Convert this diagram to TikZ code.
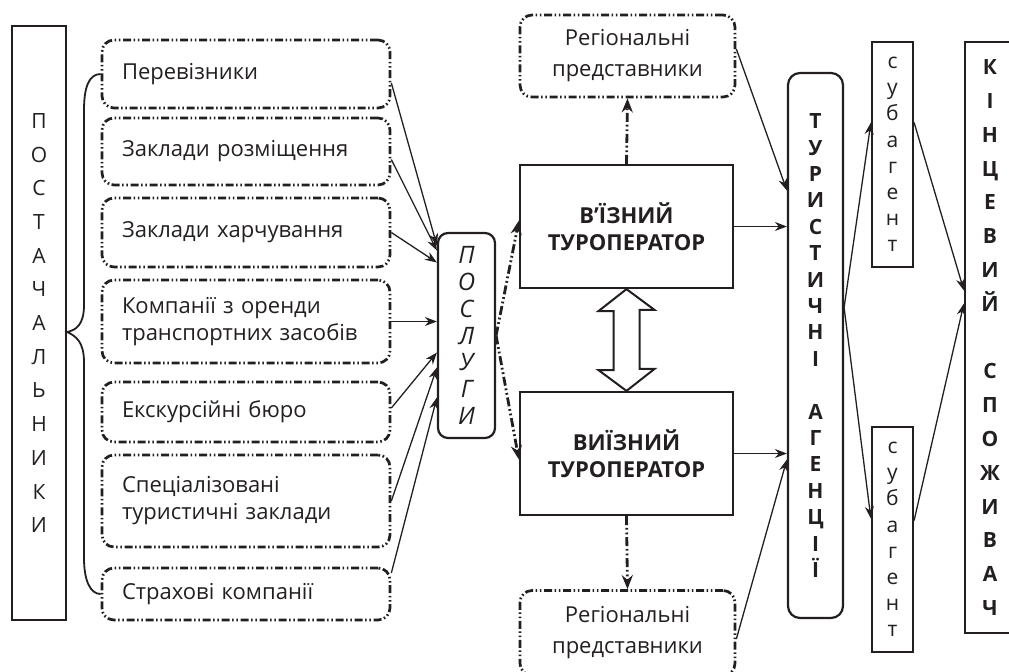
\documentclass[tikz,border=0pt]{standalone}
\usepackage{fontspec}
\setmainfont{Open Sans}
\usetikzlibrary{arrows.meta}
\definecolor{ink}{HTML}{231F20}

\tikzset{
  dashdotdot/.style={dash pattern=on 4pt off 1.3pt on 0.8pt off 1.3pt on 0.8pt off 1.3pt},
  srcbox/.style={draw=ink, line width=1.35pt, dashdotdot, rounded corners=6pt,
    text width=124pt, inner xsep=10pt, align=left, text=ink,
    font=\fontsize{11}{13.5}\selectfont},
  regbox/.style={srcbox, text width=87.5pt, align=center, minimum height=41pt,
    font=\fontsize{11}{15.5}\selectfont},
  opbox/.style={draw=ink, line width=1.1pt, minimum width=106.5pt, minimum height=61.5pt,
    align=center, text=ink, font=\fontsize{11}{13.5}\selectfont\bfseries},
  vbox/.style={draw=ink, line width=1.1pt, align=center, text=ink, inner sep=0pt},
  conn/.style={draw=ink, line width=0.65pt, -{Stealth[length=6pt,width=4.5pt]}},
  flowarr/.style={draw=ink, line width=1.4pt, dash pattern=on 4.5pt off 1.4pt on 0.9pt off 1.4pt on 0.9pt off 1.4pt,
    -{Stealth[length=7pt,width=5.5pt]}},
  dblarrow/.style={draw=ink, line width=1pt, fill=white, line join=miter}
}

\begin{document}
\begin{tikzpicture}[x=0.5pt,y=-0.5pt]
\useasboundingbox (0,0) rectangle (1009,671);

% постачальники
\node[vbox, minimum width=27pt, minimum height=297pt, font=\fontsize{10.5}{16.85}\selectfont]
  (pst) at (39,323) {П\\О\\С\\Т\\А\\Ч\\А\\Л\\Ь\\Н\\И\\К\\И};

\node[srcbox, minimum height=34pt]   (per)     at (246,74)    {Перевізники};
\node[srcbox, minimum height=33.5pt] (rozm)    at (246,151.5) {Заклади розміщення};
\node[srcbox, minimum height=34.5pt] (harch)   at (246,232.5) {Заклади харчування};
\node[srcbox, minimum height=41.5pt] (orenda)  at (246,321.5) {Компанії з оренди\\транспортних засобів};
\node[srcbox, minimum height=30pt]   (ekskurs) at (246,412)   {Екскурсійні бюро};
\node[srcbox, minimum height=46pt]   (spec)    at (246,501)   {Спеціалізовані\\туристичні заклади};
\node[srcbox, minimum height=26pt]   (strah)   at (246,594)   {Страхові компанії};

% фігурна дужка
\coordinate (brace) at ([yshift=-4.5pt]pst.east);
\draw[ink, line width=0.9pt] (per.west) .. controls +(-12,0) and +(0,-22) .. (84,110)
  -- (84,305) .. controls (84,325) and (76,330) .. (brace)
  .. controls (76,336) and (84,342) .. (84,362)
  -- (84,558) .. controls (84,580) and (90,594) .. (strah.west);

% послуги
\node[vbox, rounded corners=5pt, minimum width=28.5pt, minimum height=102.5pt,
  font=\fontsize{12}{13.4}\selectfont\itshape] (usl) at (466.5,335.5) {П\\О\\С\\Л\\У\\Г\\И};

\draw[conn] ([yshift=-4.5pt]per.east)  -- ([yshift=45pt]usl.west);
\draw[conn] ([yshift=-4pt]rozm.east)   -- ([yshift=42.5pt]usl.west);
\draw[conn] (harch.east)               -- ([yshift=36.5pt]usl.west);
\draw[conn] (orenda.east)              -- (orenda.east -| usl.west);
\draw[conn] ([yshift=2pt]ekskurs.east) -- ([yshift=-8.5pt]usl.west);
\draw[conn] (spec.east)                -- ([yshift=-16pt]usl.west);
\draw[conn] ([yshift=10.5pt]strah.east) -- ([yshift=-31pt]usl.west);

% туроператори
\node[opbox] (vin) at (626.5,226.5) {В’ЇЗНИЙ\\ТУРОПЕРАТОР};
\node[opbox] (vyi) at (626.5,453.5) {ВИЇЗНИЙ\\ТУРОПЕРАТОР};
\node[regbox] (reg1) at (627.5,56)    {Регіональні\\представники};
\node[regbox, minimum height=42.5pt] (reg2) at (627.5,633) {Регіональні\\представники};

\draw[flowarr] (usl.east) -- ([yshift=3pt]vin.west);
\draw[flowarr] (usl.east) -- ([yshift=-3pt]vyi.west);
\draw[flowarr] (vin.north) -- (reg1.south);
\draw[flowarr] (vyi.south) -- (reg2.north);

\draw[dblarrow] (vin.south) -- ++(-28,22) -- ++(15,0) -- ++(0,59) -- ++(-15,0)
  -- (vyi.north) -- ++(28,-22) -- ++(-15,0) -- ++(0,-59) -- ++(15,0) -- cycle;

% туристичні агенції
\node[vbox, rounded corners=6pt, minimum width=27.5pt, minimum height=272.5pt,
  font=\fontsize{10.5}{13.2}\selectfont\bfseries]
  (ta) at (815.5,345.5) {Т\\У\\Р\\И\\С\\Т\\И\\Ч\\Н\\І\\\mbox{}\\А\\Г\\Е\\Н\\Ц\\І\\Ї};

\draw[conn] ([yshift=3.5pt]reg1.east) -- ([yshift=77.5pt]ta.west);
\draw[conn] (vin.east) -- (vin.east -| ta.west);
\draw[conn] (vyi.east) -- (vyi.east -| ta.west);
\draw[conn] ([yshift=-3pt]reg2.east) -- ([yshift=-57pt]ta.west);

% субагенти
\node[vbox, minimum width=20.5pt, minimum height=112.5pt, font=\fontsize{10.5}{13.1}\selectfont]
  (sub1) at (892.5,154.5) {с\\у\\б\\а\\г\\е\\н\\т};
\node[vbox, minimum width=20.5pt, minimum height=112.5pt, font=\fontsize{10.5}{13.1}\selectfont]
  (sub2) at (892.5,539.5) {с\\у\\б\\а\\г\\е\\н\\т};

\draw[conn] ([yshift=19pt]ta.east) -- ([yshift=16pt]sub1.west);
\draw[conn] ([yshift=19pt]ta.east) -- ([yshift=10.5pt]sub2.west);

% кінцевий споживач
\node[vbox, minimum width=25pt, minimum height=295.5pt, font=\fontsize{10.5}{16.9}\selectfont\bfseries]
  (ks) at (990,337.5) {К\\І\\Н\\Ц\\Е\\В\\И\\Й\\\mbox{}\\С\\П\\О\\Ж\\И\\В\\А\\Ч};

\draw[conn] ([yshift=16pt]sub1.east) -- ([yshift=23.5pt]ks.west);
\draw[conn] ([yshift=9.5pt]sub2.east) -- ([yshift=17pt]ks.west);
\end{tikzpicture}
\end{document}
